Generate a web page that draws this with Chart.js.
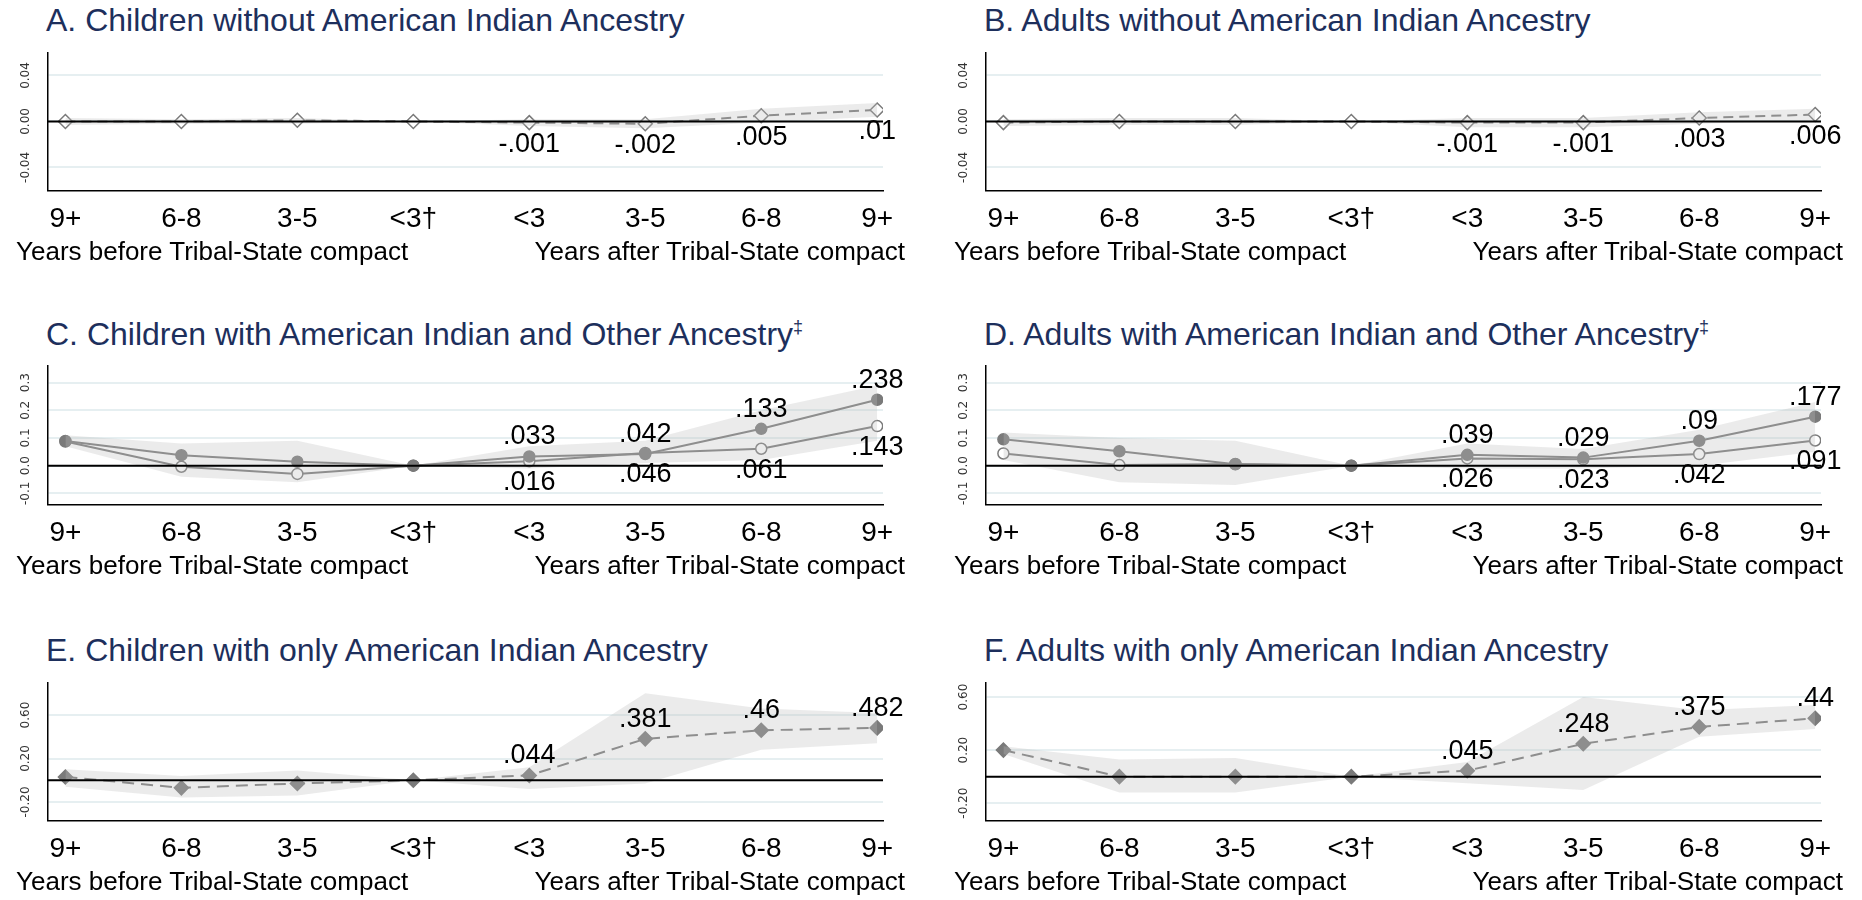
<!DOCTYPE html>
<html>
<head>
<meta charset="utf-8">
<script src="https://cdn.jsdelivr.net/npm/chart.js@4"></script>
<style>
  body { margin: 0; background: #fff; font-family: "Liberation Sans", Arial, sans-serif; }
  #wrap { position: relative; width: 1862px; height: 900px; overflow: hidden; }
  .panel { position: absolute; width: 931px; height: 300px; }
  .title { position: absolute; left: 46px; top: 2px; font-size: 32px; color: #1d2f5c; white-space: nowrap; }
  .title sup { font-size: 18px; }
  .cv { position: absolute; left: 0; top: 44px; width: 931px; height: 196px; }
  .sub { position: absolute; top: 236px; font-size: 26px; color: #000; white-space: nowrap; }
</style>
</head>
<body>
<div id="wrap"></div>
<script>
const xLabels = ["9+", "6-8", "3-5", "<3†", "<3", "3-5", "6-8", "9+"];

// A. children without AI ancestry
const aVals = [0, 0, 0.001, 0, -0.001, -0.002, 0.005, 0.01];
const aLow  = [-0.003, -0.002, -0.002, 0, -0.004, -0.006, -0.001, 0.004];
const aHigh = [0.003, 0.002, 0.003, 0, 0.002, 0.002, 0.011, 0.016];
const aTicks = [-0.04, 0, 0.04];

// B. adults without AI ancestry
const bVals = [-0.001, 0, 0, 0, -0.001, -0.001, 0.003, 0.006];
const bLow  = [-0.004, -0.003, -0.003, 0, -0.005, -0.005, -0.002, 0.001];
const bHigh = [0.002, 0.003, 0.003, 0, 0.003, 0.003, 0.008, 0.011];
const bTicks = [-0.04, 0, 0.04];

// C. children AI + other
const cFilled = [0.089, 0.038, 0.014, 0, 0.033, 0.042, 0.133, 0.238];
const cHollow = [0.087, -0.004, -0.03, 0, 0.016, 0.046, 0.061, 0.143];
const cLow  = [0.07, -0.04, -0.06, 0, -0.01, 0.01, 0.02, 0.09];
const cHigh = [0.11, 0.08, 0.09, 0, 0.07, 0.09, 0.2, 0.29];
const cTicks = [-0.1, 0, 0.1, 0.2, 0.3];

// D. adults AI + other
const dFilled = [0.095, 0.052, 0.005, 0, 0.039, 0.029, 0.09, 0.177];
const dHollow = [0.044, 0.002, 0.006, 0, 0.026, 0.023, 0.042, 0.091];
const dLow  = [0.02, -0.06, -0.07, 0, -0.01, -0.01, 0, 0.05];
const dHigh = [0.12, 0.1, 0.09, 0, 0.08, 0.06, 0.13, 0.23];
const dTicks = [-0.1, 0, 0.1, 0.2, 0.3];

// E. children only AI
const eVals = [0.03, -0.07, -0.03, 0, 0.044, 0.381, 0.46, 0.482];
const eLow  = [-0.06, -0.16, -0.14, 0, -0.08, -0.03, 0.28, 0.34];
const eHigh = [0.1, 0.04, 0.09, 0, 0.12, 0.8, 0.66, 0.62];
const eTicks = [-0.2, 0.2, 0.6];

// F. adults only AI
const fVals = [0.2, 0.0, 0.0, 0, 0.045, 0.248, 0.375, 0.44];
const fLow  = [0.17, -0.12, -0.12, 0, -0.05, -0.1, 0.3, 0.36];
const fHigh = [0.23, 0.13, 0.14, 0, 0.11, 0.6, 0.5, 0.54];
const fTicks = [-0.2, 0.2, 0.6];

const panels = [
  { id: "A", title: "A. Children without American Indian Ancestry", left: 0, top: 0, ticks: aTicks, min: -0.06, max: 0.06, dec: 2,
    low: aLow, high: aHigh, series: [{ v: aVals, pt: "rectRot", filled: false, dash: [10, 6], lab: "below" }] },
  { id: "B", title: "B. Adults without American Indian Ancestry", left: 938, top: 0, ticks: bTicks, min: -0.06, max: 0.06, dec: 2,
    low: bLow, high: bHigh, series: [{ v: bVals, pt: "rectRot", filled: false, dash: [10, 6], lab: "below" }] },
  { id: "C", title: "C. Children with American Indian and Other Ancestry<sup>‡</sup>", left: 0, top: 314, ticks: cTicks, min: -0.14, max: 0.36, dec: 1,
    low: cLow, high: cHigh, series: [{ v: cFilled, pt: "circle", filled: true, dash: [], lab: "above" }, { v: cHollow, pt: "circle", filled: false, dash: [], lab: "below" }] },
  { id: "D", title: "D. Adults with American Indian and Other Ancestry<sup>‡</sup>", left: 938, top: 314, ticks: dTicks, min: -0.14, max: 0.36, dec: 1,
    low: dLow, high: dHigh, series: [{ v: dFilled, pt: "circle", filled: true, dash: [], lab: "above" }, { v: dHollow, pt: "circle", filled: false, dash: [], lab: "below" }] },
  { id: "E", title: "E. Children with only American Indian Ancestry", left: 0, top: 630, ticks: eTicks, min: -0.37, max: 0.9, dec: 2,
    low: eLow, high: eHigh, series: [{ v: eVals, pt: "rectRot", filled: true, dash: [12, 7], lab: "above" }] },
  { id: "F", title: "F. Adults with only American Indian Ancestry", left: 938, top: 630, ticks: fTicks, min: -0.33, max: 0.71, dec: 2,
    low: fLow, high: fHigh, series: [{ v: fVals, pt: "rectRot", filled: true, dash: [12, 7], lab: "above" }] }
];

function fmt(v) {
  let s = String(v);
  return s.replace(/^0\./, ".").replace(/^-0\./, "-.");
}

const extras = {
  id: "extras",
  afterDraw(chart) {
    const { ctx, chartArea: ca, scales } = chart;
    const p = chart.options.plugins.extras;
    const y = scales.y, x = scales.x;
    ctx.save();
    // zero line
    const y0 = y.getPixelForValue(0);
    ctx.strokeStyle = "#000"; ctx.lineWidth = 2;
    ctx.beginPath(); ctx.moveTo(ca.left, y0); ctx.lineTo(ca.right, y0); ctx.stroke();
    // rotated y tick labels
    ctx.fillStyle = "#333"; ctx.font = "12px 'DejaVu Sans', sans-serif";
    ctx.textAlign = "center"; ctx.textBaseline = "middle";
    p.ticks.forEach(t => {
      const py = y.getPixelForValue(t);
      ctx.save(); ctx.translate(ca.left - 22, py); ctx.rotate(-Math.PI / 2);
      ctx.fillText(t.toFixed(p.dec), 0, 0); ctx.restore();
    });
    // value labels on post-compact points
    ctx.fillStyle = "#000"; ctx.font = "27px 'Liberation Sans', Arial, sans-serif";
    p.series.forEach(s => {
      for (let i = 4; i < 8; i++) {
        const px = x.getPixelForValue(i), py = y.getPixelForValue(s.v[i]);
        if (s.lab === "above") { ctx.textBaseline = "bottom"; ctx.fillText(fmt(s.v[i]), px, py - 6); }
        else { ctx.textBaseline = "top"; ctx.fillText(fmt(s.v[i]), px, py + 8); }
      }
    });
    ctx.restore();
  }
};

const wrap = document.getElementById("wrap");
panels.forEach(p => {
  const div = document.createElement("div");
  div.className = "panel";
  div.style.left = p.left + "px"; div.style.top = p.top + "px";
  div.innerHTML = '<div class="title">' + p.title + '</div>' +
    '<div class="cv"><canvas id="c' + p.id + '"></canvas></div>' +
    '<div class="sub" style="left:16px">Years before Tribal-State compact</div>' +
    '<div class="sub" style="right:26px">Years after Tribal-State compact</div>';
  wrap.appendChild(div);

  const toXY = arr => arr.map((v, i) => ({ x: i, y: v }));
  const datasets = [
    { data: toXY(p.low), borderWidth: 0, pointRadius: 0, fill: false, backgroundColor: "rgba(0,0,0,0)" },
    { data: toXY(p.high), borderWidth: 0, pointRadius: 0, fill: "-1", backgroundColor: "rgba(190,190,190,0.3)" }
  ];
  p.series.forEach(s => datasets.push({
    data: toXY(s.v), borderColor: "#7a7a7a", borderWidth: 2, borderDash: s.dash, fill: false,
    pointStyle: s.pt, pointRadius: s.pt === "rectRot" ? 7 : 5.5, pointBorderWidth: 1.5,
    pointBorderColor: "#7a7a7a", pointBackgroundColor: s.filled ? "#7a7a7a" : "#ffffff"
  }));

  new Chart(document.getElementById("c" + p.id), {
    type: "line",
    data: { datasets },
    plugins: [extras],
    options: {
      responsive: true, maintainAspectRatio: false, animation: false,
      layout: { padding: { left: 0, right: 48, top: 8 } },
      plugins: { legend: { display: false }, tooltip: { enabled: false }, extras: { ticks: p.ticks, dec: p.dec, series: p.series } },
      scales: {
        x: {
          type: "linear", min: -0.15, max: 7.05,
          afterBuildTicks: sc => { sc.ticks = xLabels.map((l, i) => ({ value: i })); },
          ticks: { callback: (v) => xLabels[v], color: "#000", font: { size: 28, family: "'Liberation Sans', Arial" }, maxRotation: 0, autoSkip: false, padding: 4 },
          grid: { display: false, drawTicks: true, tickLength: 8 },
          border: { color: "#000", width: 1.5 }
        },
        y: {
          min: p.min, max: p.max,
          afterBuildTicks: sc => { sc.ticks = p.ticks.map(v => ({ value: v })); },
          afterFit: sc => { sc.width = 48; },
          ticks: { display: false },
          grid: { color: "#e6eff1", lineWidth: 2, drawTicks: false },
          border: { color: "#000", width: 1.5 }
        }
      }
    }
  });
});
</script>
</body>
</html>
